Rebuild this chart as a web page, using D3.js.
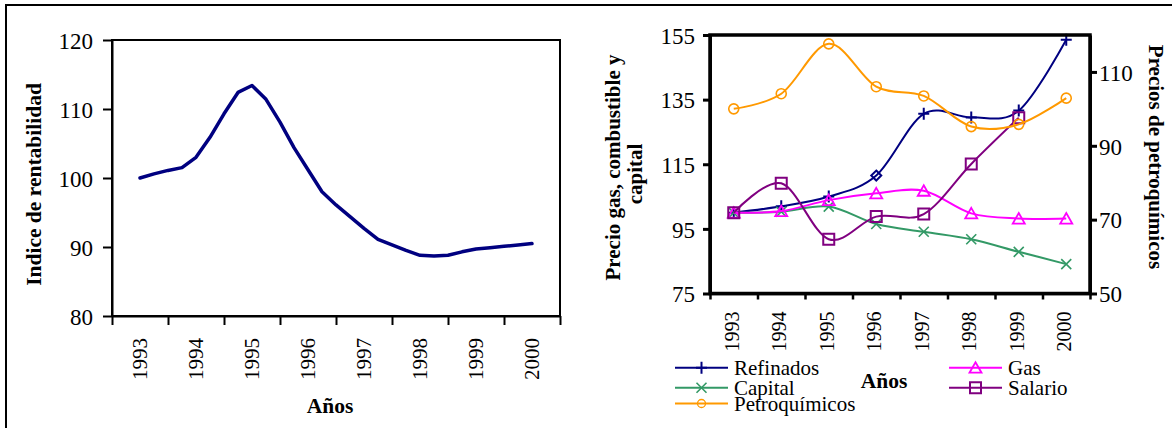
<!DOCTYPE html>
<html>
<head>
<meta charset="utf-8">
<script src="https://cdn.jsdelivr.net/npm/d3@7"></script>
<style>
  html, body { margin: 0; padding: 0; background: #fff; }
  svg { display: block; font-family: "Liberation Serif", "Times New Roman", serif; }
  .axis path, .axis line { stroke: #000; }
  .axis text { fill: #000; font-family: "Liberation Serif", "Times New Roman", serif; }
</style>
</head>
<body>
<svg id="chart" width="1175" height="428"></svg>
<script>
// ---- data ----
const years = ["1993", "1994", "1995", "1996", "1997", "1998", "1999", "2000"];

// profitability index, quarterly readings from 1993 to 2000
const rentabilidad = [100.0, 100.6, 101.1, 101.5, 103.0, 105.9, 109.3, 112.4, 113.4,
  111.4, 108.1, 104.4, 101.2, 98.0, 96.1, 94.4, 92.7, 91.1, 90.3, 89.5, 88.8,
  88.7, 88.8, 89.3, 89.7, 89.9, 90.1, 90.3, 90.5];
const rentabilidadTicks = [80, 90, 100, 110, 120];

// yearly price indices
const refinados = [100, 102, 105, 111.5, 130.6, 129.5, 131.6, 153.5];
const capital = [100, 100.3, 101.9, 96.5, 94.1, 91.8, 87.9, 84.1];
const gas = [100, 100.5, 103.9, 106.0, 106.8, 99.8, 98.2, 98.2];
const salario = [100, 109.1, 91.8, 98.8, 99.6, 115.1, 129.4, null];
const petroquimicos = [100, 104.1, 117.6, 106.0, 103.5, 95.2, 95.8, 102.9];
const preciosTicks = [75, 95, 115, 135, 155];
const petroTicks = [50, 70, 90, 110];

// ---- drawing ----
const svg = d3.select("#chart");

// outer frame
svg.append("path").attr("d", "M6,430V5H1172").attr("fill", "none")
  .attr("stroke", "#000").attr("stroke-width", 2);

// ===== left chart: profitability =====
const L = { x0: 112, x1: 560, y0: 40, y1: 316 };
const xL = d3.scaleBand().domain(years).range([L.x0, L.x1]);
const yL = d3.scaleLinear().domain([80, 120]).range([L.y1, L.y0]);
const xLq = d3.scaleLinear().domain([0, rentabilidad.length - 1])
  .range([xL(years[0]) + xL.bandwidth() / 2, xL(years[years.length - 1]) + xL.bandwidth() / 2]);
const xLb = d3.scaleLinear().domain([0, years.length]).range([L.x0, L.x1]);

const gL = svg.append("g");
gL.append("rect").attr("x", L.x0).attr("y", L.y0).attr("width", L.x1 - L.x0).attr("height", L.y1 - L.y0)
  .attr("fill", "none").attr("stroke", "#000").attr("stroke-width", 2);

gL.append("g").attr("class", "axis").attr("transform", `translate(${L.x0},0)`)
  .call(d3.axisLeft(yL).tickValues(rentabilidadTicks).tickSize(9).tickSizeOuter(0).tickPadding(10))
  .call(g => g.selectAll("path,line").attr("stroke-width", 2))
  .call(g => g.selectAll("text").attr("font-size", 23).attr("dy", "0.36em"));

gL.append("g").attr("class", "axis").attr("transform", `translate(0,${L.y1})`)
  .call(d3.axisBottom(xLb).tickValues(d3.range(years.length + 1)).tickSize(9).tickSizeOuter(0).tickFormat(""))
  .call(g => g.selectAll("path,line").attr("stroke-width", 2));

gL.append("g").attr("class", "axis").attr("transform", `translate(0,${L.y1})`)
  .call(d3.axisBottom(xL).tickSize(0))
  .call(g => g.select(".domain").remove())
  .call(g => g.selectAll("text").attr("font-size", 21)
    .attr("transform", "rotate(-90)").attr("text-anchor", "end")
    .attr("x", -22).attr("y", 0).attr("dy", "0.33em"));

gL.append("path").datum(rentabilidad)
  .attr("fill", "none").attr("stroke", "#000080").attr("stroke-width", 3.5)
  .attr("stroke-linejoin", "round").attr("stroke-linecap", "round")
  .attr("d", d3.line().x((d, i) => xLq(i)).y(d => yL(d)));

gL.append("text").attr("transform", "translate(41,184.5) rotate(-90)")
  .attr("text-anchor", "middle").attr("font-size", 21.5).attr("font-weight", "bold")
  .text("Indice de rentabilidad");

gL.append("text").attr("x", 330).attr("y", 413).attr("text-anchor", "middle")
  .attr("font-size", 21.5).attr("font-weight", "bold").text("Años");

// ===== right chart: prices =====
const R = { x0: 710, x1: 1090, y0: 35, y1: 293.5 };
const xR = d3.scaleBand().domain(years).range([R.x0, R.x1]);
const xRb = d3.scaleLinear().domain([0, years.length]).range([R.x0, R.x1]);
const yR = d3.scaleLinear().domain([75, 155]).range([R.y1, R.y0]);
const yR2 = d3.scaleLinear().domain([50, 120]).range([R.y1, R.y0]);
const cx = y => xR(y) + xR.bandwidth() / 2;

const gR = svg.append("g");

gR.append("g").attr("class", "axis").attr("transform", `translate(${R.x0},0)`)
  .call(d3.axisLeft(yR).tickValues(preciosTicks).tickSize(7).tickSizeOuter(0).tickPadding(8))
  .call(g => g.selectAll("path,line").attr("stroke-width", 3))
  .call(g => g.selectAll("text").attr("font-size", 23).attr("dy", "0.36em"));

gR.append("g").attr("class", "axis").attr("transform", `translate(${R.x1},0)`)
  .call(d3.axisRight(yR2).tickValues(petroTicks).tickSize(7).tickSizeOuter(0).tickPadding(2))
  .call(g => g.selectAll("path,line").attr("stroke-width", 3))
  .call(g => g.selectAll("text").attr("font-size", 23).attr("dy", "0.36em"));

gR.append("g").attr("class", "axis").attr("transform", `translate(0,${R.y1})`)
  .call(d3.axisBottom(xRb).tickValues(d3.range(years.length + 1)).tickSize(6).tickSizeOuter(0).tickFormat(""))
  .call(g => g.selectAll("path,line").attr("stroke-width", 2.5));

gR.append("g").attr("class", "axis").attr("transform", `translate(0,${R.y1})`)
  .call(d3.axisBottom(xR).tickSize(0))
  .call(g => g.select(".domain").remove())
  .call(g => g.selectAll("text").attr("font-size", 20)
    .attr("transform", "rotate(-90)").attr("text-anchor", "end")
    .attr("x", -18).attr("y", 0).attr("dy", "0.25em"));

// marker shapes
const markerPaths = {
  plus: "M-5.5,0H5.5M0,-6V6",
  cross: "M-5,-5L5,5M-5,5L5,-5",
  triangle: "M0,-5.5L6,5L-6,5Z",
  square: "M-5.5,-5.5H5.5V5.5H-5.5Z",
  circle: "M5,0A5,5 0 1,1 -5,0A5,5 0 1,1 5,0Z",
  diamond: "M0,-5L5,0L0,5L-5,0Z"
};

const series = [
  { name: "Refinados", values: refinados, color: "#000080", marker: "plus", scale: yR, mw: 2, special: { "1996": "diamond" } },
  { name: "Capital", values: capital, color: "#339966", marker: "cross", scale: yR, mw: 1.6 },
  { name: "Gas", values: gas, color: "#FF00FF", marker: "triangle", scale: yR, mw: 1.8 },
  { name: "Salario", values: salario, color: "#800080", marker: "square", scale: yR, mw: 2 },
  { name: "Petroquímicos", values: petroquimicos, color: "#FF9900", marker: "circle", scale: yR2, mw: 1.6 }
];

const plot = gR.append("g");
series.forEach(s => {
  const pts = years.map((y, i) => ({ year: y, v: s.values[i] })).filter(d => d.v != null);
  const line = d3.line().curve(d3.curveCardinal.tension(0))
    .x(d => cx(d.year)).y(d => s.scale(d.v));
  plot.append("path").datum(pts).attr("fill", "none").attr("stroke", s.color)
    .attr("stroke-width", 2).attr("d", line);
  plot.selectAll(null).data(pts).join("path")
    .attr("transform", d => `translate(${cx(d.year)},${s.scale(d.v)})`)
    .attr("d", d => markerPaths[(s.special && s.special[d.year]) || s.marker])
    .attr("fill", "none").attr("stroke", s.color).attr("stroke-width", s.mw);
});

// plot frame on top
gR.append("rect").attr("x", R.x0).attr("y", R.y0).attr("width", R.x1 - R.x0).attr("height", R.y1 - R.y0)
  .attr("fill", "none").attr("stroke", "#000").attr("stroke-width", 3.5);

// axis titles
gR.append("text").attr("transform", "translate(613,167.5) rotate(-90)")
  .attr("text-anchor", "middle").attr("dy", "0.35em").attr("font-size", 21).attr("font-weight", "bold")
  .text("Precio gas, combustible y");
gR.append("text").attr("transform", "translate(635,174) rotate(-90)")
  .attr("text-anchor", "middle").attr("dy", "0.35em").attr("font-size", 21).attr("font-weight", "bold")
  .text("capital");
gR.append("text").attr("transform", "translate(1156,157) rotate(90)")
  .attr("text-anchor", "middle").attr("dy", "0.35em").attr("font-size", 21).attr("font-weight", "bold")
  .text("Precios de petroquímicos");

gR.append("text").attr("x", 884).attr("y", 388).attr("text-anchor", "middle")
  .attr("font-size", 21.5).attr("font-weight", "bold").text("Años");

// legend
const legendPos = {
  "Refinados": [675, 367.7], "Capital": [675, 387.7], "Petroquímicos": [675, 403.5],
  "Gas": [949, 367.7], "Salario": [949, 387.7]
};
const legend = gR.append("g");
series.forEach(s => {
  const [lx, ly] = legendPos[s.name];
  const item = legend.append("g").attr("transform", `translate(${lx},${ly})`);
  item.append("line").attr("x1", 0).attr("x2", 53).attr("y1", 0).attr("y2", 0)
    .attr("stroke", s.color).attr("stroke-width", 2);
  item.append("path").attr("transform", `translate(26.5,0)${s.marker === "circle" ? " scale(0.8)" : ""}`)
    .attr("d", markerPaths[s.marker]).attr("fill", "none")
    .attr("stroke", s.color).attr("stroke-width", s.mw);
  item.append("text").attr("x", 59).attr("y", 7.5).attr("font-size", 21).attr("fill", "#000")
    .text(s.name);
});
</script>
</body>
</html>
